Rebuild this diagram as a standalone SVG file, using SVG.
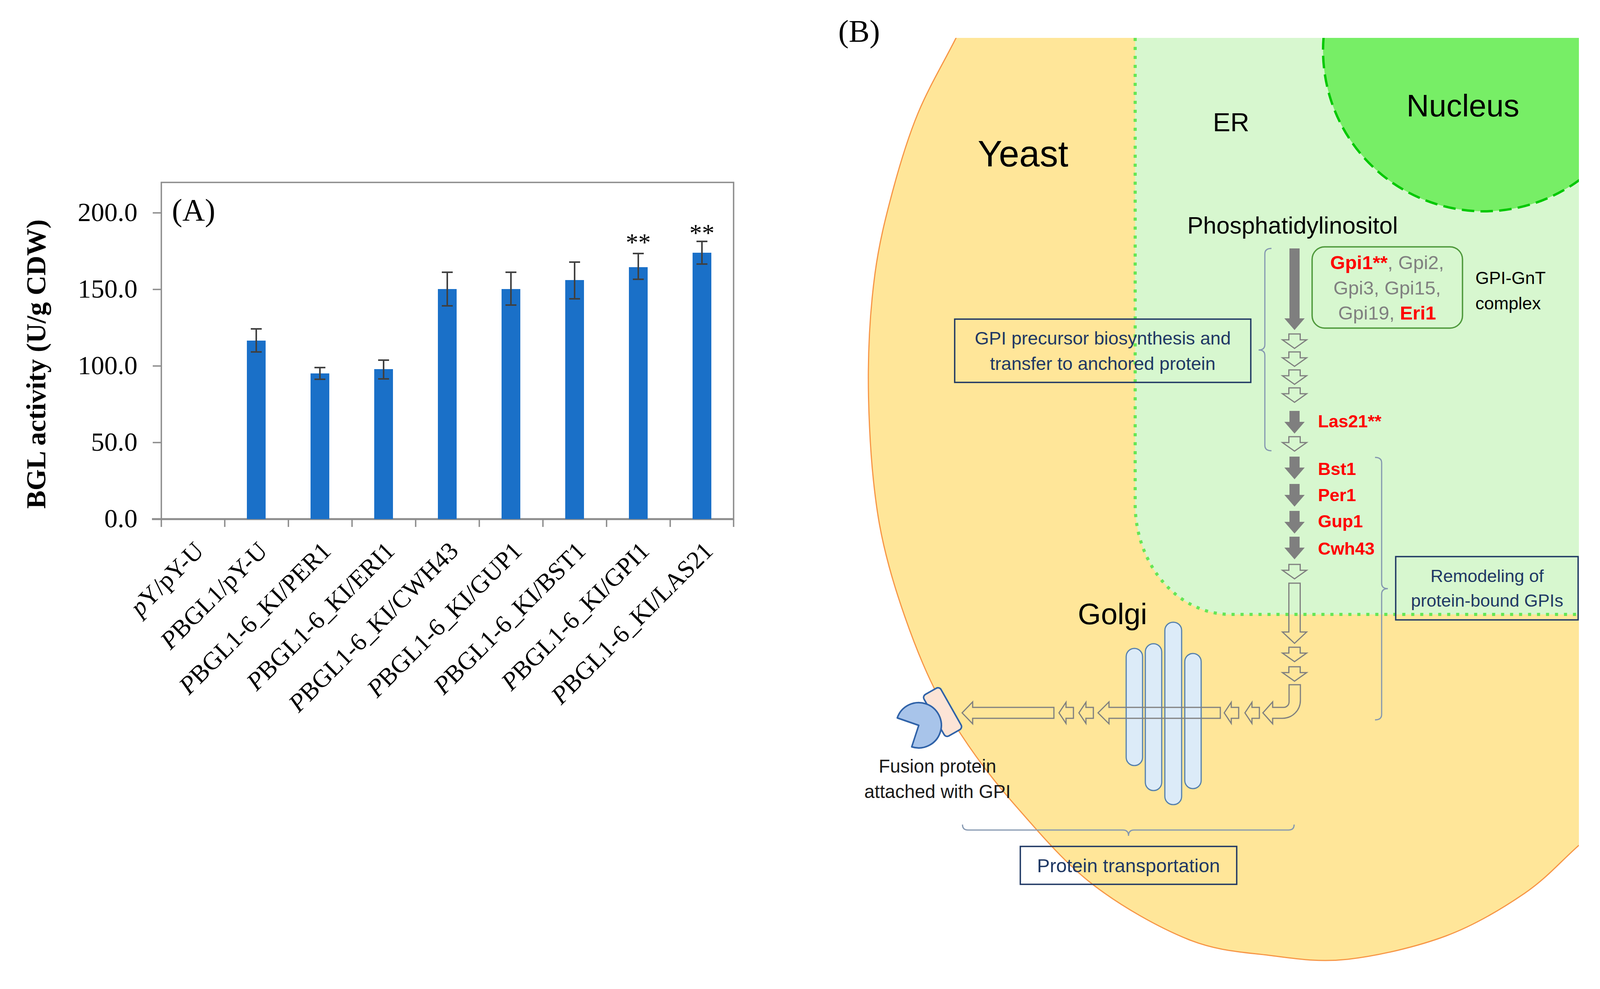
<svg xmlns="http://www.w3.org/2000/svg" width="4139" height="2532" viewBox="0 0 4139 2532">
<defs>
<style>
.tnr{font-family:"Liberation Serif","Times New Roman",serif;fill:#000}
.sans{font-family:"Liberation Sans",Arial,sans-serif}
.tick{font-size:68px;text-anchor:end}
.xl{font-size:64px;text-anchor:end}
.bar{fill:#1a70c8}
.err{stroke:#404040;stroke-width:4;fill:none}
.ax{stroke:#8c8c8c;stroke-width:3.5;fill:none}
.fa{fill:#7f7f7f}
.ha{fill:none;stroke:#7f7f7f;stroke-width:3}
.brace{fill:none;stroke:#8497b0;stroke-width:3}
.box{fill:none;stroke:#1f3864;stroke-width:3.5}
.navy{fill:#1f3864}
.red{fill:#ff0000;font-weight:bold}
.gray{fill:#808080}
.cis{fill:#dcebf8;stroke:#5580ad;stroke-width:3}
</style>
<clipPath id="clipB"><rect x="2000" y="97" width="2042" height="2435"/></clipPath>
<path id="fdown" d="M-13,0 H13 V28 H26 L0,58 L-26,28 H-13 Z"/>
<path id="hdown" d="M-14.5,0 H14.5 V15 H31 L0,37 L-31,15 H-14.5 Z"/>
<path id="hleft" d="M0,0 L18,-27 V-14 H37 V14 H18 V27 Z"/>
</defs>
<rect width="4139" height="2532" fill="#ffffff"/>

<!-- ================= PANEL A ================= -->
<g id="panelA">
  <g id="frame">
    <rect class="ax" x="413" y="467" width="1465" height="862"/>
    <path class="ax" d="M391,545 H413 M391,741 H413 M391,937 H413 M391,1133 H413"/>
    <path d="M389,1329 H1879" stroke="#8c8c8c" stroke-width="5" fill="none"/>
    <path class="ax" d="M413,1329 V1349 M575.4,1329 V1349 M738.3,1329 V1349 M901.2,1329 V1349 M1064.1,1329 V1349 M1227,1329 V1349 M1389.9,1329 V1349 M1552.8,1329 V1349 M1715.7,1329 V1349 M1878,1329 V1349"/>
  </g>
  <g id="yticks" class="tnr tick">
    <text x="352" y="566">200.0</text>
    <text x="352" y="762">150.0</text>
    <text x="352" y="958">100.0</text>
    <text x="352" y="1154">50.0</text>
    <text x="352" y="1350">0.0</text>
  </g>
  <text id="ylabel" class="tnr" font-size="70" font-weight="bold" text-anchor="middle" transform="translate(116,932) rotate(-90)">BGL activity (U/g CDW)</text>
  <text id="labelA" class="tnr" x="440" y="565" font-size="80">(A)</text>
  <g id="bars">
    <rect class="bar" x="632" y="872" width="48" height="457"/>
    <rect class="bar" x="795" y="956" width="48" height="373"/>
    <rect class="bar" x="958" y="945" width="48" height="384"/>
    <rect class="bar" x="1121" y="740" width="48" height="589"/>
    <rect class="bar" x="1284" y="740" width="48" height="589"/>
    <rect class="bar" x="1447" y="717" width="48" height="612"/>
    <rect class="bar" x="1610" y="684" width="48" height="645"/>
    <rect class="bar" x="1773" y="647" width="48" height="682"/>
  </g>
  <g id="errorbars" class="err">
    <path d="M656,901 V842 M642,842 H670 M642,901 H670"/>
    <path d="M819,971 V941 M805,941 H833 M805,971 H833"/>
    <path d="M982,970 V922 M968,922 H996 M968,970 H996"/>
    <path d="M1145,783 V697 M1131,697 H1159 M1131,783 H1159"/>
    <path d="M1308,781 V697 M1294,697 H1322 M1294,781 H1322"/>
    <path d="M1471,765 V671 M1457,671 H1485 M1457,765 H1485"/>
    <path d="M1634,715 V649 M1620,649 H1648 M1620,715 H1648"/>
    <path d="M1797,676 V618 M1783,618 H1811 M1783,676 H1811"/>
  </g>
  <g id="signif" class="tnr" font-size="64" text-anchor="middle">
    <text x="1634" y="642">**</text>
    <text x="1797" y="618">**</text>
  </g>
  <g id="xlabels" class="tnr xl">
    <text transform="translate(525,1414) rotate(-45)"><tspan font-style="italic">p</tspan>Y/pY-U</text>
    <text transform="translate(688,1414) rotate(-45)"><tspan font-style="italic">P</tspan>BGL1/pY-U</text>
    <text transform="translate(851,1414) rotate(-45)"><tspan font-style="italic">P</tspan>BGL1-6_KI/PER1</text>
    <text transform="translate(1014,1414) rotate(-45)"><tspan font-style="italic">P</tspan>BGL1-6_KI/ERI1</text>
    <text transform="translate(1177,1414) rotate(-45)"><tspan font-style="italic">P</tspan>BGL1-6_KI/CWH43</text>
    <text transform="translate(1340,1414) rotate(-45)"><tspan font-style="italic">P</tspan>BGL1-6_KI/GUP1</text>
    <text transform="translate(1503,1414) rotate(-45)"><tspan font-style="italic">P</tspan>BGL1-6_KI/BST1</text>
    <text transform="translate(1666,1414) rotate(-45)"><tspan font-style="italic">P</tspan>BGL1-6_KI/GPI1</text>
    <text transform="translate(1829,1414) rotate(-45)"><tspan font-style="italic">P</tspan>BGL1-6_KI/LAS21</text>
  </g>
</g>

<!-- ================= PANEL B ================= -->
<text id="labelB" class="tnr" x="2146" y="107" font-size="80">(B)</text>
<g id="panelB-cells" clip-path="url(#clipB)">
  <g id="yeast">
    <path fill="#ffe699" d="M2447,98 C2414.7,162 2377,224.7 2350,290 C2323,355.3 2303.3,421.7 2285,490 C2266.7,558.3 2250.3,623.3 2240,700 C2229.7,776.7 2223.7,861.7 2223,950 C2222.3,1038.3 2227.2,1146.7 2236,1230 C2244.8,1313.3 2254.8,1371.7 2276,1450 C2297.2,1528.3 2332.3,1628.3 2363,1700 C2393.7,1771.7 2420.5,1819.5 2460,1880 C2499.5,1940.5 2543.8,1999 2600,2063 C2656.2,2127 2723.3,2207 2797,2264 C2870.7,2321 2966.5,2374.7 3042,2405 C3117.5,2435.3 3182,2437.5 3250,2446 C3318,2454.5 3374.7,2464.3 3450,2456 C3525.3,2447.7 3626.5,2424.2 3702,2396 C3777.5,2367.8 3846.3,2325.7 3903,2287 C3959.7,2248.3 3995.7,2205 4042,2164 L4042,80 L2455,80 Z"/>
    <path fill="none" stroke="#f79646" stroke-width="3" d="M2455,82 L2447,98 C2414.7,162 2377,224.7 2350,290 C2323,355.3 2303.3,421.7 2285,490 C2266.7,558.3 2250.3,623.3 2240,700 C2229.7,776.7 2223.7,861.7 2223,950 C2222.3,1038.3 2227.2,1146.7 2236,1230 C2244.8,1313.3 2254.8,1371.7 2276,1450 C2297.2,1528.3 2332.3,1628.3 2363,1700 C2393.7,1771.7 2420.5,1819.5 2460,1880 C2499.5,1940.5 2543.8,1999 2600,2063 C2656.2,2127 2723.3,2207 2797,2264 C2870.7,2321 2966.5,2374.7 3042,2405 C3117.5,2435.3 3182,2437.5 3250,2446 C3318,2454.5 3374.7,2464.3 3450,2456 C3525.3,2447.7 3626.5,2424.2 3702,2396 C3777.5,2367.8 3846.3,2325.7 3903,2287 C3959.7,2248.3 3995.7,2205 4042,2164"/>
  </g>
  <g id="er">
    <path fill="#d7f7cf" d="M2906,97 V1290 A244,283 0 0 0 3150,1573 H4042 V97 Z"/>
    <path fill="none" stroke="#66e655" stroke-width="8" stroke-dasharray="8 15" d="M2906,97 V1290 A244,283 0 0 0 3150,1573 H4042"/>
  </g>
  <g id="nucleus">
    <circle cx="3799" cy="129" r="412" fill="#77ee66" stroke="#00c800" stroke-width="6" stroke-dasharray="32 16"/>
  </g>
</g>

<g id="region-labels" class="sans">
  <text x="2503" y="426" font-size="94">Yeast</text>
  <text x="3105" y="336" font-size="67">ER</text>
  <text x="3745" y="298" font-size="80" text-anchor="middle">Nucleus</text>
  <text x="3309" y="598" font-size="61" text-anchor="middle">Phosphatidylinositol</text>
  <text x="2848" y="1598" font-size="76" text-anchor="middle">Golgi</text>
</g>

<g id="golgi">
  <rect class="cis" x="2883" y="1660" width="42" height="300" rx="21"/>
  <rect class="cis" x="2932" y="1648" width="42" height="376" rx="21"/>
  <rect class="cis" x="2982" y="1593" width="43" height="467" rx="21"/>
  <rect class="cis" x="3033" y="1673" width="42" height="346" rx="21"/>
</g>

<g id="gpi-gnt-complex">
  <rect x="3359" y="632" width="385" height="208" rx="32" fill="none" stroke="#4f9a3c" stroke-width="3.5"/>
  <g class="sans" font-size="49" text-anchor="middle">
    <text x="3551" y="689"><tspan class="red">Gpi1**</tspan><tspan class="gray">, Gpi2,</tspan></text>
    <text x="3551" y="754" class="gray">Gpi3, Gpi15,</text>
    <text x="3551" y="818"><tspan class="gray">Gpi19, </tspan><tspan class="red">Eri1</tspan></text>
  </g>
  <text class="sans" x="3777" y="727" font-size="45">GPI-GnT</text>
  <text class="sans" x="3777" y="792" font-size="45">complex</text>
</g>

<g id="enzyme-labels" class="sans red" font-size="45">
  <text x="3374" y="1094">Las21**</text>
  <text x="3374" y="1216">Bst1</text>
  <text x="3374" y="1283">Per1</text>
  <text x="3374" y="1350">Gup1</text>
  <text x="3374" y="1420">Cwh43</text>
</g>

<g id="box-precursor">
  <rect class="box" x="2444" y="817" width="758" height="162"/>
  <g class="sans navy" font-size="47" text-anchor="middle">
    <text x="2823" y="882">GPI precursor biosynthesis and</text>
    <text x="2823" y="947">transfer to anchored protein</text>
  </g>
</g>
<g id="box-remodeling">
  <rect class="box" x="3573" y="1425" width="467" height="162"/>
  <g class="sans navy" font-size="45" text-anchor="middle">
    <text x="3807" y="1490">Remodeling of</text>
    <text x="3807" y="1553">protein-bound GPIs</text>
  </g>
</g>
<g id="box-transport">
  <rect class="box" x="2612" y="2167" width="554" height="97"/>
  <text class="sans navy" x="2889" y="2233" font-size="49" text-anchor="middle">Protein transportation</text>
</g>

<g id="fusion-protein">
  <rect x="-25" y="-61" width="50" height="122" rx="9" fill="#fce4d6" stroke="#2f62a8" stroke-width="4" transform="translate(2413,1823) rotate(-29.5)"/>
  <path d="M2352,1857 L2297,1838 A58,58 0 1 1 2334,1912 Z" fill="#a8c4ea" stroke="#2f62a8" stroke-width="4" stroke-linejoin="round"/>
  <g class="sans" font-size="47.5" fill="#1a1a1a" text-anchor="middle">
    <text x="2400" y="1978">Fusion protein</text>
    <text x="2400" y="2043">attached with GPI</text>
  </g>
</g>

<g id="connectors">
  <path class="brace" d="M3255,636 Q3238,636 3238,650 V882 Q3238,896 3222,896 Q3238,896 3238,910 V1140 Q3238,1154 3255,1154"/>
  <path class="brace" d="M3520,1171 Q3537,1171 3537,1185 V1493 Q3537,1507 3553,1507 Q3537,1507 3537,1521 V1829 Q3537,1843 3520,1843"/>
  <path class="brace" d="M2464,2111 Q2464,2125 2478,2125 H2875 Q2889,2125 2889,2140 Q2889,2125 2903,2125 H3299 Q3313,2125 3313,2111"/>
  <path class="fa" d="M3301,636 H3327 V815 H3340 L3314,845 L3288,815 H3301 Z"/>
  <use href="#hdown" class="ha" x="3314" y="855"/>
  <use href="#hdown" class="ha" x="3314" y="901"/>
  <use href="#hdown" class="ha" x="3314" y="947"/>
  <use href="#hdown" class="ha" x="3314" y="993"/>
  <use href="#fdown" class="fa" x="3314" y="1052"/>
  <use href="#hdown" class="ha" x="3314" y="1118"/>
  <use href="#fdown" class="fa" x="3314" y="1169"/>
  <use href="#fdown" class="fa" x="3314" y="1239"/>
  <use href="#fdown" class="fa" x="3314" y="1308"/>
  <use href="#fdown" class="fa" x="3314" y="1374"/>
  <use href="#hdown" class="ha" x="3314" y="1445"/>
  <path class="ha" d="M3299.5,1493 H3328.5 V1618 H3345 L3314,1647 L3283,1618 H3299.5 Z"/>
  <use href="#hdown" class="ha" x="3314" y="1657"/>
  <use href="#hdown" class="ha" x="3314" y="1707"/>
  <path class="ha" d="M3300,1753 H3329 V1793 A46,46 0 0 1 3283,1839 H3258 V1853 L3233,1825 L3258,1797 V1811 H3286 A14,14 0 0 0 3300,1797 Z"/>
  <use href="#hleft" class="ha" x="3187" y="1825"/>
  <use href="#hleft" class="ha" x="3134" y="1825"/>
  <path class="ha" d="M2811,1825 L2839,1797 V1811 H3124 V1839 H2839 V1853 Z"/>
  <use href="#hleft" class="ha" x="2762" y="1825"/>
  <use href="#hleft" class="ha" x="2711" y="1825"/>
  <path class="ha" d="M2463,1825 L2490,1797 V1811 H2698 V1839 H2490 V1853 Z"/>
</g>
</svg>
